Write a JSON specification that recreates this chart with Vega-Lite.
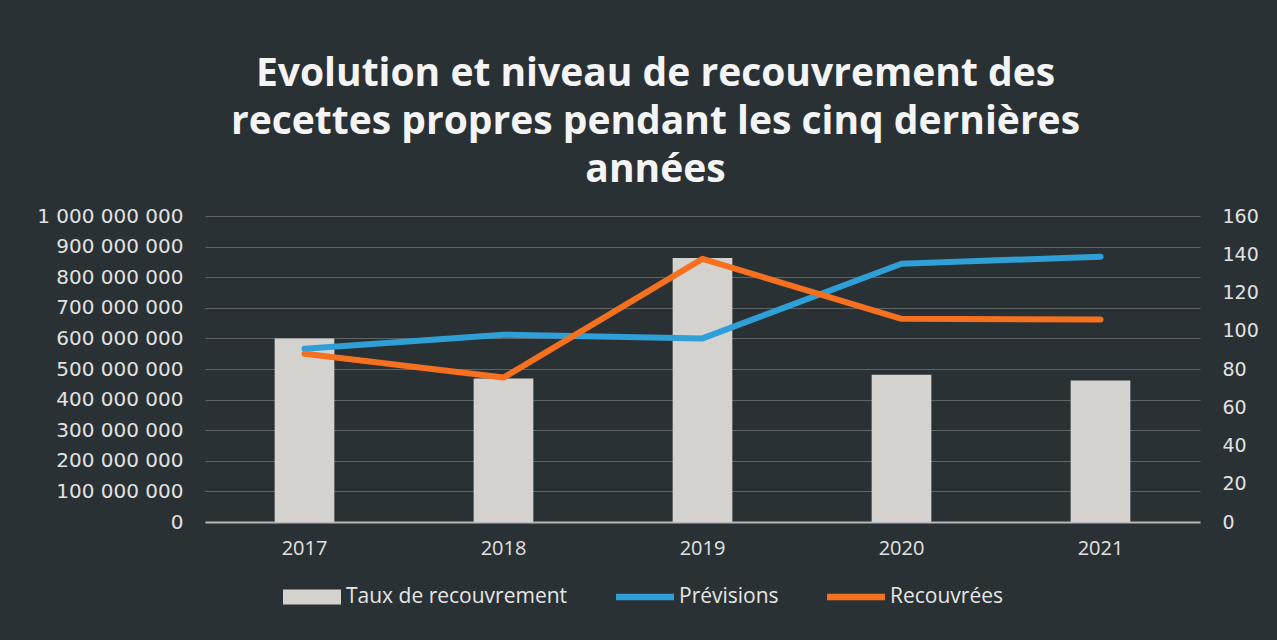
{
  "$schema": "https://vega.github.io/schema/vega-lite/v6.json",
  "width": 995,
  "height": 306,
  "autosize": {"type": "none"},
  "padding": {"left": 205, "top": 216, "right": 77, "bottom": 118},
  "background": "#2a3134",
  "config": {
    "view": {"stroke": null},
    "locale": {"number": {"decimal": ",", "thousands": " ", "grouping": [3], "currency": ["", ""]}}
  },
  "title": {
    "text": ["Evolution et niveau de recouvrement des", "recettes propres pendant les cinq dernières", "années"],
    "font": "Open Sans",
    "fontSize": 39,
    "fontWeight": "bold",
    "color": "#f4f4f4",
    "lineHeight": 48,
    "anchor": "middle",
    "dx": -47,
    "offset": 16
  },
  "data": {
    "values": [
      {"annee": "2017", "prevision": 566000000, "recouvree": 550000000, "taux": 96},
      {"annee": "2018", "prevision": 612000000, "recouvree": 472000000, "taux": 75},
      {"annee": "2019", "prevision": 600000000, "recouvree": 860000000, "taux": 138},
      {"annee": "2020", "prevision": 844000000, "recouvree": 664000000, "taux": 77},
      {"annee": "2021", "prevision": 867000000, "recouvree": 662000000, "taux": 74}
    ]
  },
  "encoding": {
    "x": {
      "field": "annee",
      "type": "ordinal",
      "scale": {"paddingInner": 0.7, "paddingOuter": 0.35},
      "axis": {
        "title": null,
        "labelAngle": 0,
        "ticks": false,
        "grid": false,
        "domainColor": "#b8b8b8",
        "domainWidth": 2,
        "labelFont": "Open Sans",
        "labelFontSize": 20,
        "labelColor": "#e2e2e2",
        "labelPadding": 16
      }
    }
  },
  "layer": [
    {
      "mark": {"type": "bar", "color": "#d3d2cf"},
      "encoding": {
        "y": {
          "field": "taux",
          "type": "quantitative",
          "scale": {"domain": [0, 160], "nice": false},
          "axis": {
            "orient": "right",
            "title": null,
            "values": [0, 20, 40, 60, 80, 100, 120, 140, 160],
            "labelOverlap": false,
            "grid": false,
            "ticks": false,
            "domain": false,
            "labelFont": "DejaVu Sans",
            "labelFontSize": 19,
            "labelColor": "#e2e2e2",
            "labelPadding": 22
          }
        },
        "color": {
          "datum": "Taux de recouvrement",
          "type": "nominal",
          "scale": {
            "domain": ["Taux de recouvrement", "Prévisions", "Recouvrées"],
            "range": ["#d3d2cf", "#2f9fd8", "#f5701f"]
          },
          "legend": {
            "title": null,
            "orient": "none",
            "legendX": 78,
            "legendY": 352,
            "direction": "horizontal",
            "symbolSize": 3364,
            "labelOffset": 5,
            "labelLimit": 400,
            "columnPadding": 48,
            "labelFont": "Open Sans",
            "labelFontSize": 21,
            "labelColor": "#e6e6e6",
            "encode": {
              "symbols": {
                "update": {
                  "shape": {"signal": "datum.value === 'Taux de recouvrement' ? 'M-1,-0.26L1,-0.26L1,0.26L-1,0.26Z' : 'M-1,-0.11L1,-0.11L1,0.11L-1,0.11Z'"},
                  "fill": {"scale": "color", "field": "value"},
                  "stroke": {"value": "transparent"},
                  "strokeWidth": {"value": 0},
                  "opacity": {"value": 1},
                  "fillOpacity": {"value": 1}
                }
              }
            }
          }
        }
      }
    },
    {
      "mark": {"type": "line", "strokeWidth": 6, "strokeCap": "round", "strokeJoin": "round"},
      "encoding": {
        "y": {
          "field": "prevision",
          "type": "quantitative",
          "scale": {"domain": [0, 1000000000], "nice": false},
          "axis": {
            "orient": "left",
            "title": null,
            "values": [0, 100000000, 200000000, 300000000, 400000000, 500000000, 600000000, 700000000, 800000000, 900000000, 1000000000],
            "labelOverlap": false,
            "format": ",d",
            "grid": true,
            "gridColor": "#8a8f92",
            "gridOpacity": 0.55,
            "gridWidth": 1,
            "ticks": false,
            "domain": false,
            "labelFont": "DejaVu Sans",
            "labelFontSize": 20,
            "labelColor": "#e2e2e2",
            "labelPadding": 22
          }
        },
        "color": {"datum": "Prévisions", "type": "nominal"}
      }
    },
    {
      "mark": {"type": "line", "strokeWidth": 6, "strokeCap": "round", "strokeJoin": "round"},
      "encoding": {
        "y": {
          "field": "recouvree",
          "type": "quantitative",
          "scale": {"domain": [0, 1000000000], "nice": false},
          "axis": null
        },
        "color": {"datum": "Recouvrées", "type": "nominal"}
      }
    }
  ],
  "resolve": {"scale": {"y": "independent"}}
}
